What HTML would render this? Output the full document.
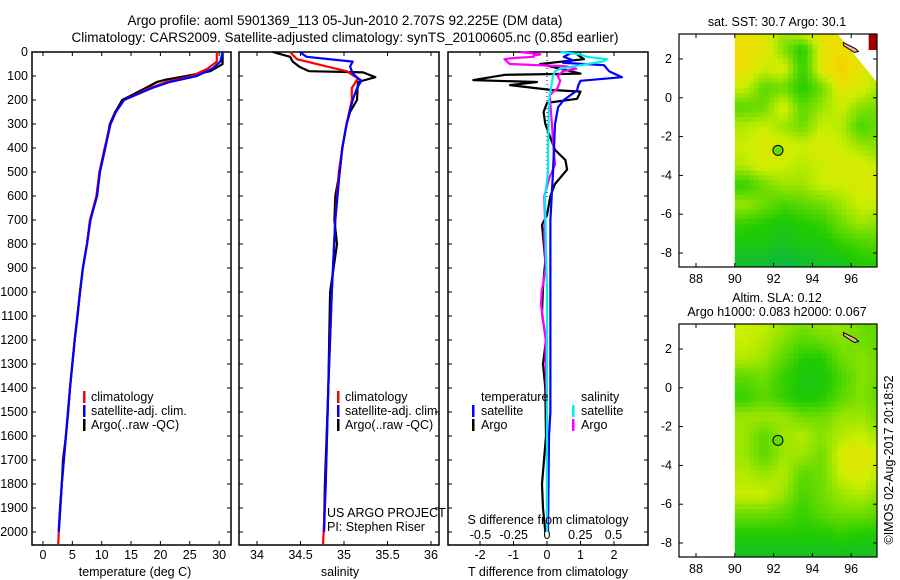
<!DOCTYPE html>
<html><head><meta charset="utf-8"><style>
body{margin:0;background:#fff;}
svg{display:block;font-family:"Liberation Sans",sans-serif;}
text{font-size:12.5px;fill:#000;}
</style></head><body>
<svg id="c" width="900" height="580" viewBox="0 0 900 580" xmlns="http://www.w3.org/2000/svg">
<text x="345" y="25" text-anchor="middle" style="font-size:13.5px">Argo profile: aoml 5901369_113 05-Jun-2010 2.707S 92.225E (DM data)</text>
<text x="345" y="42" text-anchor="middle" style="font-size:13.5px">Climatology: CARS2009. Satellite-adjusted climatology: synTS_20100605.nc (0.85d earlier)</text>
</svg>
<script>
// ---- data ----
const depthTicks=[0,100,200,300,400,500,600,700,800,900,1000,1100,1200,1300,1400,1500,1600,1700,1800,1900,2000];
const tempTicks=[0,5,10,15,20,25,30];
const salTicks=[34,34.5,35,35.5,36];
const tdiffTicks=[-2,-1,0,1,2];
const sdiffTicks=[-0.5,-0.25,0,0.25,0.5];
const sdiffTickLabels=["-0.5","-0.25","0","0.25","0.5"];
const lonTicks=[88,90,92,94,96];
const latTicks=[2,0,-2,-4,-6,-8];
// temperature profiles
const tArgoDepth=[0,50,80,100,115,125,150,200,250,300,400,500,600,700,800,900,1000,1100,1200,1300,1400,1500,1600,1700,1800,1900,1990];
const tArgo=[30.6,30.6,28.5,24.5,21,19.4,17.5,13.5,12.3,11.4,10.6,9.7,9.2,8.0,7.5,6.8,6.3,5.9,5.4,5.0,4.6,4.3,3.9,3.4,3.2,2.9,2.7];
const tClimDepth=[0,40,70,100,125,150,200,250,300,400,500,600,700,800,900,1000,1200,1400,1600,1800,2000,2050];
const tClim=[29.6,29.6,28,25.4,21,18.2,13.8,12.4,11.5,10.5,9.6,9.1,8.0,7.5,6.8,6.3,5.4,4.6,3.9,3.2,2.7,2.6];
const tSatDepth=[0,40,70,100,125,150,200,250,300,400,500,600,700,800,900,1000,1200,1400,1600,1800,2000];
const tSat=[30.6,30.2,28.8,26.2,21.6,18.6,13.8,12.4,11.5,10.6,9.7,9.2,8.1,7.5,6.8,6.3,5.4,4.6,3.9,3.2,2.7];
// salinity profiles
const sArgoDepth=[0,20,40,62,80,85,105,125,200,250,300,400,500,600,700,800,900,1000,1200,1400,1600,1800,1990];
const sArgo=[34.18,34.38,34.41,34.49,34.6,35.22,35.36,35.16,35.15,35.07,35.03,34.98,34.95,34.9,34.89,34.92,34.88,34.84,34.83,34.82,34.8,34.78,34.77];
const sClimDepth=[0,30,60,80,110,150,200,300,400,500,700,1000,1400,1800,2050];
const sClim=[34.38,34.46,34.8,35.03,35.16,35.09,35.09,35.03,34.98,34.94,34.9,34.86,34.82,34.79,34.76];
const sSatDepth=[0,20,40,60,90,120,150,200,300,400,500,700,1000,1400,1800,2000];
const sSat=[34.49,34.57,35.1,35.07,35.1,35.2,35.15,35.1,35.03,34.98,34.95,34.9,34.86,34.82,34.79,34.77];
// difference profiles
const dTArgoDepth=[0,30,50,90,95,117,125,138,158,165,195,212,250,300,408,450,490,550,600,680,720,870,980,1090,1200,1300,1400,1600,1800,1900,2000];
const dTArgo=[0.8,1.1,-0.2,1.0,-1.25,-2.2,-0.3,-1.1,0.1,1.0,0.9,0,-0.1,-0.05,0.24,0.55,0.6,0.24,0.1,0,-0.15,-0.05,-0.12,-0.15,-0.03,-0.12,-0.05,-0.03,-0.15,-0.12,-0.05];
const dTSatDepth=[0,20,35,45,55,80,105,120,140,160,200,230,300,500,700,1000,1500,1600,2000];
const dTSat=[0.78,0.5,0.78,0.48,1.7,1.85,2.24,1.0,0.93,0.9,0.5,0.33,0.24,0.18,0.1,0.1,0.1,0.06,0.03];
const dSArgoDepth=[0,10,15,20,25,30,50,60,70,80,100,120,150,180,250,400,470,520,600,700,760,900,1000,1050,1200,1300,1500,2000];
const dSArgo=[-0.2,-0.05,-0.1,-0.1,-0.25,-0.32,-0.28,0.15,0.22,0.12,0.08,0.1,0.08,0.02,0.03,0.05,0.06,0.02,-0.02,-0.015,-0.02,-0.01,-0.04,-0.045,-0.01,-0.01,0,0];
const dSSatDepth=[0,10,20,30,40,55,70,80,100,150,200,400,500,600,800,1000,2000];
const dSSat=[0.1,0.25,0.3,0.45,0.42,0.25,0.1,0.06,0.045,0.03,0.015,0.008,0.008,-0.015,-0.008,0,0];
// map grids (cell centres: rows lat 3.5..-8.5 top to bottom, cols lon 90.5..97.5)
const sstGrid=[
[0.8,0.8,0.6,0.8,0.85,0.85,0.8,0.8],
[0.85,0.8,0.55,0.3,0.8,0.85,0.8,0.8],
[0.85,0.7,0.75,0.35,0.8,0.9,0.8,0.7],
[0.7,0.45,0.5,0.3,0.5,0.8,0.75,0.6],
[0.45,0.5,0.75,0.45,0.6,0.7,0.55,0.5],
[0.65,0.7,0.6,0.5,0.7,0.65,0.4,0.5],
[0.7,0.75,0.75,0.7,0.75,0.7,0.6,0.55],
[0.65,0.75,0.7,0.65,0.7,0.75,0.75,0.65],
[0.35,0.5,0.6,0.6,0.7,0.7,0.75,0.75],
[0.6,0.5,0.4,0.45,0.5,0.6,0.7,0.7],
[0.35,0.3,0.25,0.3,0.35,0.5,0.6,0.55],
[0.25,0.25,0.2,0.25,0.25,0.35,0.4,0.45],
[0.15,0.15,0.1,0.15,0.2,0.2,0.3,0.3]];
const slaGrid=[
[0.7,0.7,0.6,0.55,0.6,0.6,0.5,0.45],
[0.7,0.65,0.55,0.45,0.5,0.55,0.5,0.45],
[0.65,0.6,0.45,0.3,0.3,0.5,0.55,0.5],
[0.45,0.5,0.35,0.25,0.25,0.4,0.55,0.5],
[0.35,0.45,0.35,0.25,0.3,0.45,0.55,0.45],
[0.6,0.6,0.6,0.5,0.5,0.6,0.6,0.5],
[0.6,0.45,0.6,0.65,0.55,0.65,0.7,0.6],
[0.6,0.45,0.6,0.6,0.5,0.75,0.8,0.7],
[0.65,0.6,0.65,0.45,0.5,0.7,0.75,0.65],
[0.7,0.7,0.6,0.4,0.5,0.6,0.65,0.55],
[0.5,0.5,0.45,0.35,0.45,0.5,0.5,0.45],
[0.3,0.3,0.3,0.3,0.3,0.35,0.3,0.3],
[0.2,0.2,0.2,0.2,0.2,0.2,0.2,0.2]];
const argoLon=92.225, argoLat=-2.707;

// ---- drawing ----
const svg=document.getElementById('c');
const NS='http://www.w3.org/2000/svg';
function mk(tag,attrs,parent){const e=document.createElementNS(NS,tag);for(const k in attrs)e.setAttribute(k,attrs[k]);(parent||svg).appendChild(e);return e;}
function txt(x,y,s,anchor,parent){const t=mk('text',{x:x,y:y,'text-anchor':anchor||'start'},parent);t.textContent=s;return t;}

const yD=d=>52+d*0.24;
const panels=[
 {x0:32,x1:231,name:'temperature-panel',xs:v=>43+(v)*5.87},
 {x0:239,x1:439,name:'salinity-panel',xs:v=>257+(v-34)*87},
 {x0:448,x1:648,name:'difference-panel',xs:v=>547+v*33.5}];
const xSd=v=>547+v*133;

panels.forEach((p,pi)=>{
 const g=mk('g',{});
 
 
 const r=mk('rect',{x:p.x0,y:52,width:p.x1-p.x0,height:493,fill:'none',stroke:'#000','stroke-width':1.5},g);
 
 
 depthTicks.forEach(d=>{
  mk('line',{x1:p.x0,x2:p.x0+4,y1:yD(d),y2:yD(d),stroke:'#000'},g);
  mk('line',{x1:p.x1-4,x2:p.x1,y1:yD(d),y2:yD(d),stroke:'#000'},g);
  if(pi===0){const t=txt(28,yD(d)+4,String(d),'end',g);
   
   }
 });
});
tempTicks.forEach(v=>{const x=panels[0].xs(v);
 mk('line',{x1:x,x2:x,y1:545,y2:541,stroke:'#000'});mk('line',{x1:x,x2:x,y1:52,y2:56,stroke:'#000'});
 const t=txt(x,559,String(v),'middle');
 
 });
salTicks.forEach(v=>{const x=panels[1].xs(v);
 mk('line',{x1:x,x2:x,y1:545,y2:541,stroke:'#000'});mk('line',{x1:x,x2:x,y1:52,y2:56,stroke:'#000'});
 const t=txt(x,559,String(v),'middle');
 
 });
tdiffTicks.forEach(v=>{const x=panels[2].xs(v);
 mk('line',{x1:x,x2:x,y1:545,y2:541,stroke:'#000'});mk('line',{x1:x,x2:x,y1:52,y2:56,stroke:'#000'});
 const t=txt(x,559,String(v),'middle');
 
 });
sdiffTicks.forEach((v,i)=>{const t=txt(xSd(v),539,sdiffTickLabels[i],'middle');
 
 });
mk('line',{x1:547,x2:547,y1:52,y2:200,stroke:'#000','stroke-dasharray':'1,3'});

function series(xs,ds,vals,color,name){
 const pts=ds.map((d,i)=>xs(vals[i]).toFixed(1)+','+yD(d).toFixed(1)).join(' ');
 const l=mk('polyline',{points:pts,fill:'none',stroke:color,'stroke-width':2.2,'stroke-linejoin':'round'});
 
 
}
series(panels[0].xs,tArgoDepth,tArgo,'#000','temperature-argo-line');
series(panels[0].xs,tClimDepth,tClim,'#f00','temperature-climatology-line');
series(panels[0].xs,tSatDepth,tSat,'#00f','temperature-satellite-line');
series(panels[1].xs,sArgoDepth,sArgo,'#000','salinity-argo-line');
series(panels[1].xs,sClimDepth,sClim,'#f00','salinity-climatology-line');
series(panels[1].xs,sSatDepth,sSat,'#00f','salinity-satellite-line');
series(panels[2].xs,dTArgoDepth,dTArgo,'#000','tdiff-argo-line');
series(xSd,dSArgoDepth,dSArgo,'#f0f','sdiff-argo-line');
series(panels[2].xs,dTSatDepth,dTSat,'#00f','tdiff-satellite-line');
series(xSd,dSSatDepth,dSSat,'#0ee','sdiff-satellite-line');

[[135,576,'temperature (deg C)','temperature-axis-title'],[340,576,'salinity','salinity-axis-title'],[548,576,'T difference from climatology','tdiff-axis-title'],[548,524,'S difference from climatology','sdiff-axis-title']].forEach(a=>{
 const t=txt(a[0],a[1],a[2],'middle');
 
 });

function legItem(mx,tx,y,color,label,name){
 if(color){mk('rect',{x:mx,y:y-10,width:2.5,height:12,fill:color});}
 const t=txt(tx,y,label);
 
 
}
legItem(83,91,401,'#f00','climatology','legend-climatology');
legItem(83,91,415,'#00f','satellite-adj. clim.','legend-satellite');
legItem(83,91,429,'#000','Argo(..raw -QC)','legend-argo');
legItem(337,345,401,'#f00','climatology','legend-climatology-2');
legItem(337,345,415,'#00f','satellite-adj. clim.','legend-satellite-2');
legItem(337,345,429,'#000','Argo(..raw -QC)','legend-argo-2');
legItem(0,481,401,null,'temperature','legend-temperature-header');
legItem(472,481,415,'#00f','satellite','legend-t-satellite');
legItem(472,481,429,'#000','Argo','legend-t-argo');
legItem(0,581,401,null,'salinity','legend-salinity-header');
legItem(572,581,415,'#0ee','satellite','legend-s-satellite');
legItem(572,581,429,'#f0f','Argo','legend-s-argo');
legItem(0,327,517,null,'US ARGO PROJECT','project-credit');
legItem(0,327,531,null,'PI: Stephen Riser','pi-credit');

// maps
const stops=[[0,[0,176,96]],[0.3,[34,204,0]],[0.5,[110,221,0]],[0.7,[204,238,0]],[0.85,[238,221,0]],[1,[255,176,0]]];
function cmap(v){v=Math.max(0,Math.min(1,v));for(let i=1;i<stops.length;i++){if(v<=stops[i][0]){const a=stops[i-1],b=stops[i];const f=(v-a[0])/(b[0]-a[0]);
 return 'rgb('+a[1].map((c,k)=>Math.round(c+(b[1][k]-c)*f)).join(',')+')';}}return 'rgb(255,176,0)';}
function sample(grid,lon,lat){
 // grid cell centres at lon 90.5+ci, lat 3.5-ri
 let fc=lon-90.5, fr=3.5-lat;
 fc=Math.max(0,Math.min(grid[0].length-1,fc)); fr=Math.max(0,Math.min(grid.length-1,fr));
 const c0=Math.floor(fc),r0=Math.floor(fr),c1=Math.min(c0+1,grid[0].length-1),r1=Math.min(r0+1,grid.length-1);
 const a=fc-c0,b=fr-r0;
 return grid[r0][c0]*(1-a)*(1-b)+grid[r0][c1]*a*(1-b)+grid[r1][c0]*(1-a)*b+grid[r1][c1]*a*b;
}
function drawMap(top,grid,name,sst){
 const x0=679,x1=877,bot=top+233;
 const xl=v=>696+(v-88)*19.4;
 const latRef=top+25;
 const yl=v=>latRef+(2-v)*19.4;
 const g=mk('g',{});
 
 
 const cid='clip'+top;
 const cp=mk('clipPath',{id:cid},g);mk('rect',{x:x0,y:top,width:x1-x0,height:bot-top},cp);
 const cg=mk('g',{'clip-path':'url(#'+cid+')'},g);
 const step=0.25;
 for(let lat=3.5;lat>-9;lat-=step){
  for(let lon=90;lon<97.5;lon+=step){
   const v=sample(grid,lon+step/2,lat-step/2);
   mk('rect',{x:xl(lon).toFixed(2),y:yl(lat).toFixed(2),width:(step*19.4+0.6).toFixed(2),height:(step*19.4+0.6).toFixed(2),fill:cmap(v)},cg);
  }
 }
 if(sst){mk('polygon',{points:xl(95.3)+','+top+' '+x1+','+top+' '+x1+','+yl(0.8)},cg).setAttribute('fill','#fff');
  mk('rect',{x:xl(96.9),y:top,width:12,height:16,fill:'#a00000'},cg);}
 mk('path',{d:'M'+xl(95.6)+' '+yl(2.85)+' l12 6 l3 3 l-4 1 l-11 -7 z',fill:'#f5b090',stroke:'#000'},cg);
 mk('rect',{x:x0,y:top,width:x1-x0,height:bot-top,fill:'none',stroke:'#000','stroke-width':1.2},g);
 lonTicks.forEach(v=>{const x=xl(v);mk('line',{x1:x,x2:x,y1:bot,y2:bot-4,stroke:'#000'},g);mk('line',{x1:x,x2:x,y1:top,y2:top+4,stroke:'#000'},g);
  const t=txt(x,bot+16,String(v),'middle',g);
  
  });
 latTicks.forEach(v=>{const y=yl(v);mk('line',{x1:x0,x2:x0+4,y1:y,y2:y,stroke:'#000'},g);mk('line',{x1:x1-4,x2:x1,y1:y,y2:y,stroke:'#000'},g);
  const t=txt(672,y+4,String(v),'end',g);
  
  });
 const m=mk('circle',{cx:xl(argoLon),cy:yl(argoLat),r:5,fill:'#66dd00',stroke:'#000'},g);
 
 
}
drawMap(34,sstGrid,'sst-map',true);
drawMap(324,slaGrid,'sla-map',false);
[[777,26,'sat. SST: 30.7  Argo: 30.1','sst-map-title'],[777,302,'Altim. SLA: 0.12','sla-map-title'],[777,316,'Argo h1000: 0.083 h2000: 0.067','sla-map-subtitle']].forEach(a=>{
 const t=txt(a[0],a[1],a[2],'middle');
 
 });
const cr=txt(0,0,'©IMOS 02-Aug-2017 20:18:52','middle');
cr.setAttribute('transform','translate(893,460) rotate(-90)');


</script>
</body></html>
